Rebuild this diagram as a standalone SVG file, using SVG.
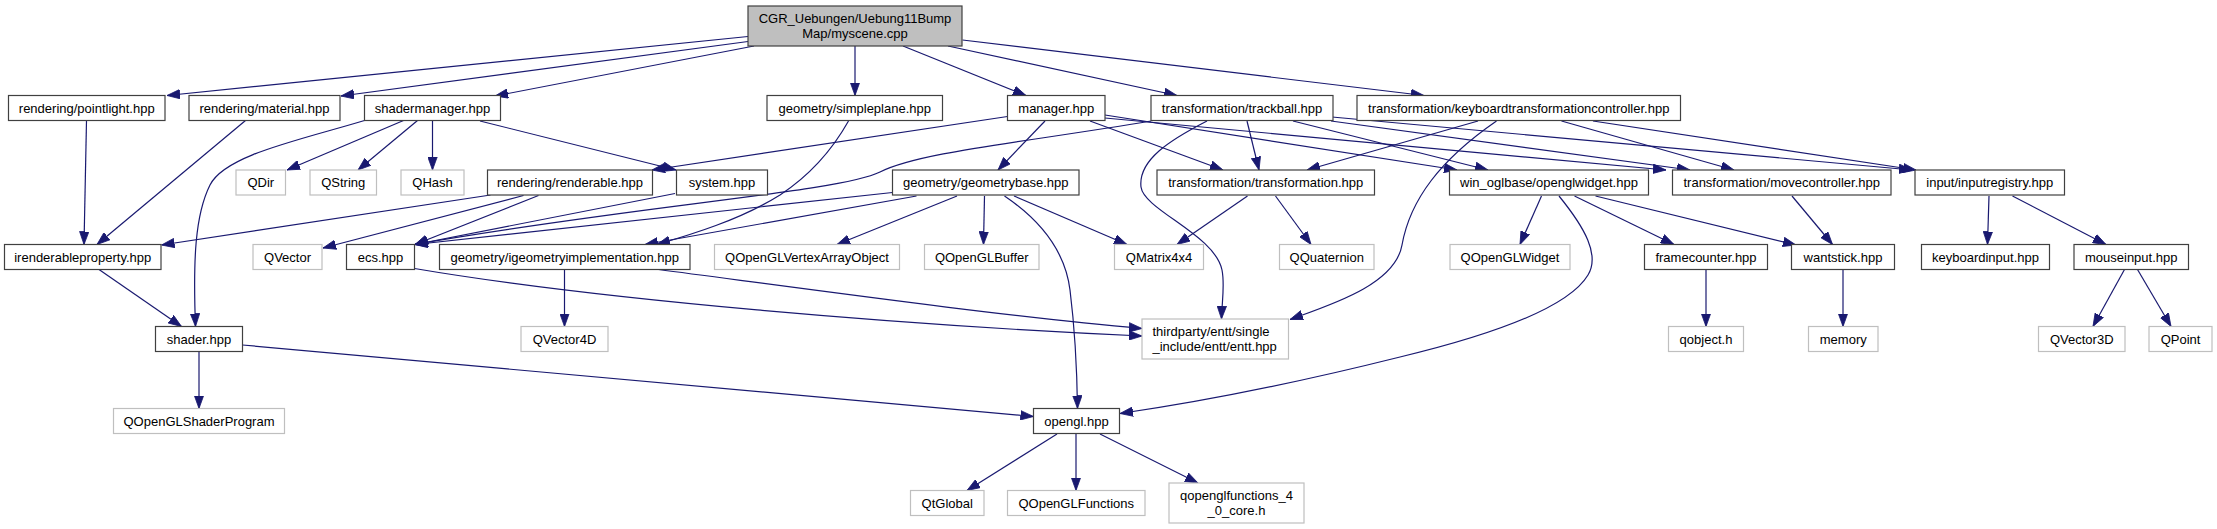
<svg xmlns="http://www.w3.org/2000/svg" width="2217" height="529" viewBox="0 0 2217 529">
<style>
rect{stroke-width:1.2}
.d rect{fill:#ffffff;stroke:#404040}
.g rect{fill:#ffffff;stroke:#bfbfbf}
.m rect{fill:#bfbfbf;stroke:#404040}
text{font-family:"Liberation Sans",Arial,Helvetica,sans-serif;font-size:13px;fill:#000;text-anchor:middle}
.l{text-anchor:start}
#edges path{fill:none;stroke:#191970;stroke-width:1.2}
</style>
<defs>
<marker id="arr" viewBox="0 0 13 10" refX="13" refY="5" markerWidth="13" markerHeight="10" markerUnits="userSpaceOnUse" orient="auto">
<path d="M0,0.3 L13,5 L0,9.7 Z" fill="#191970" stroke="#191970" stroke-width="0.8"/>
</marker>
</defs>
<rect width="2217" height="529" fill="#ffffff"/>
<g id="edges" marker-end="url(#arr)">
<path d="M748,36.5 L167,95.5" marker-end="url(#arr)"/>
<path d="M748,41.5 L341,96" marker-end="url(#arr)"/>
<path d="M754,46 L495,96" marker-end="url(#arr)"/>
<path d="M855,46 L855,95.5" marker-end="url(#arr)"/>
<path d="M903,46 L1026,95.5" marker-end="url(#arr)"/>
<path d="M948,46 L1177,95.5" marker-end="url(#arr)"/>
<path d="M962.5,40 L1424,95.5" marker-end="url(#arr)"/>
<path d="M364.5,120.5 C300,140 225,155 210,185 C195,215 193,260 195.5,326.5" marker-end="url(#arr)"/>
<path d="M403.5,120.5 L287,170" marker-end="url(#arr)"/>
<path d="M417.5,120.5 L358,170" marker-end="url(#arr)"/>
<path d="M432.5,120.5 L432.5,170" marker-end="url(#arr)"/>
<path d="M480,121 L676,170" marker-end="url(#arr)"/>
<path d="M86.5,120.5 L84,244.5" marker-end="url(#arr)"/>
<path d="M245.5,120.5 L97,244.5" marker-end="url(#arr)"/>
<path d="M848.5,121 C835,145 815,172 780,195 C740,220 690,235 657,244.5" marker-end="url(#arr)"/>
<path d="M1007.5,116.5 L652,170" marker-end="url(#arr)"/>
<path d="M1045,121 L998,170" marker-end="url(#arr)"/>
<path d="M1090,121 L1223,170" marker-end="url(#arr)"/>
<path d="M1105,115 L1457,170" marker-end="url(#arr)"/>
<path d="M1105,118 L1666,170" marker-end="url(#arr)"/>
<path d="M1151,121 C1020,143 920,152 880,172 C840,192 640,205 414.5,244.5" marker-end="url(#arr)"/>
<path d="M1247,121 L1259,170" marker-end="url(#arr)"/>
<path d="M1207,121 C1170,140 1138,160 1141,187 C1144,210 1215,235 1222,270 C1225,285 1222,300 1221.5,319" marker-end="url(#arr)"/>
<path d="M1293,121 L1488,170" marker-end="url(#arr)"/>
<path d="M1331,121 L1690,170" marker-end="url(#arr)"/>
<path d="M1332,117 L1912,170" marker-end="url(#arr)"/>
<path d="M1478,121 L1307,170" marker-end="url(#arr)"/>
<path d="M1496.5,121 C1440,160 1410,200 1402,245 C1395,285 1330,305 1290,319.5" marker-end="url(#arr)"/>
<path d="M1561.5,121 L1734,170" marker-end="url(#arr)"/>
<path d="M1593,121 L1916,170" marker-end="url(#arr)"/>
<path d="M490.5,195 L161.5,245" marker-end="url(#arr)"/>
<path d="M523.5,195.5 L323,248" marker-end="url(#arr)"/>
<path d="M538.5,195.5 L415,244.5" marker-end="url(#arr)"/>
<path d="M675,193.5 L415,244.5" marker-end="url(#arr)"/>
<path d="M892.5,192.5 L415,244.5" marker-end="url(#arr)"/>
<path d="M916.5,196 L645,244.5" marker-end="url(#arr)"/>
<path d="M957,196 L837,244.5" marker-end="url(#arr)"/>
<path d="M984.5,196 L983.5,244.5" marker-end="url(#arr)"/>
<path d="M1014,196 L1127,244.5" marker-end="url(#arr)"/>
<path d="M1004.5,196 C1040,220 1065,250 1070,290 C1075,330 1077,370 1077.5,408.5" marker-end="url(#arr)"/>
<path d="M1247.5,196 L1177,244.5" marker-end="url(#arr)"/>
<path d="M1275.5,196 L1311,244.5" marker-end="url(#arr)"/>
<path d="M1541.5,196 L1520,244.5" marker-end="url(#arr)"/>
<path d="M1559,196 C1585,228 1600,255 1588,275 C1570,305 1500,333 1400,357 C1300,382 1200,402 1120,413.5" marker-end="url(#arr)"/>
<path d="M1574.5,196 L1674,244.5" marker-end="url(#arr)"/>
<path d="M1595.5,196 L1796,245" marker-end="url(#arr)"/>
<path d="M1792,196 L1832.5,244.5" marker-end="url(#arr)"/>
<path d="M1989,196 L1987.5,244.5" marker-end="url(#arr)"/>
<path d="M2012.5,196 L2106,244.5" marker-end="url(#arr)"/>
<path d="M1706,269.5 L1706,326.5" marker-end="url(#arr)"/>
<path d="M1843,269.5 L1843,326.5" marker-end="url(#arr)"/>
<path d="M2124.5,269.5 L2093,326.5" marker-end="url(#arr)"/>
<path d="M2137.5,269.5 L2171,326.5" marker-end="url(#arr)"/>
<path d="M99,269.5 L181.5,326.5" marker-end="url(#arr)"/>
<path d="M199,352 L199,408.5" marker-end="url(#arr)"/>
<path d="M242.5,345 L1033.5,416.5" marker-end="url(#arr)"/>
<path d="M414.5,268.5 C600,300 900,325 1142,336" marker-end="url(#arr)"/>
<path d="M658.5,269.5 C800,288 1000,316 1142,328.5" marker-end="url(#arr)"/>
<path d="M564.5,269.5 L564.5,326.5" marker-end="url(#arr)"/>
<path d="M1057,434 L967,490.5" marker-end="url(#arr)"/>
<path d="M1076,434 L1076,490.5" marker-end="url(#arr)"/>
<path d="M1100,434 L1198,483" marker-end="url(#arr)"/>
</g>
<g id="n_main" class="m"><rect x="748" y="6" width="214" height="40"/><text x="855" y="23">CGR_Uebungen/Uebung11Bump</text><text x="855" y="38">Map/myscene.cpp</text></g>
<g id="n_pointlight" class="d"><rect x="8.5" y="95.5" width="156.5" height="25"/><text x="86.75" y="112.5">rendering/pointlight.hpp</text></g>
<g id="n_material" class="d"><rect x="189" y="95.5" width="151" height="25"/><text x="264.5" y="112.5">rendering/material.hpp</text></g>
<g id="n_shadermanager" class="d"><rect x="364.5" y="95.5" width="136" height="25"/><text x="432.5" y="112.5">shadermanager.hpp</text></g>
<g id="n_simpleplane" class="d"><rect x="767" y="95.5" width="175.5" height="25"/><text x="854.75" y="112.5">geometry/simpleplane.hpp</text></g>
<g id="n_manager" class="d"><rect x="1007.5" y="95.5" width="97.5" height="25"/><text x="1056.25" y="112.5">manager.hpp</text></g>
<g id="n_trackball" class="d"><rect x="1151" y="95.5" width="182" height="25"/><text x="1242" y="112.5">transformation/trackball.hpp</text></g>
<g id="n_keyboardctrl" class="d"><rect x="1357" y="95.5" width="323.5" height="25"/><text x="1518.75" y="112.5">transformation/keyboardtransformationcontroller.hpp</text></g>
<g id="n_qdir" class="g"><rect x="236" y="170" width="49.5" height="25"/><text x="260.75" y="187">QDir</text></g>
<g id="n_qstring" class="g"><rect x="310" y="170" width="66.5" height="25"/><text x="343.25" y="187">QString</text></g>
<g id="n_qhash" class="g"><rect x="401" y="170" width="63" height="25"/><text x="432.5" y="187">QHash</text></g>
<g id="n_renderable" class="d"><rect x="487.5" y="170" width="165" height="25"/><text x="570" y="187">rendering/renderable.hpp</text></g>
<g id="n_system" class="d"><rect x="676.5" y="170" width="91" height="25"/><text x="722" y="187">system.hpp</text></g>
<g id="n_geometrybase" class="d"><rect x="892.5" y="170" width="186.5" height="25"/><text x="985.75" y="187">geometry/geometrybase.hpp</text></g>
<g id="n_transformation" class="d"><rect x="1157" y="170" width="217.5" height="25"/><text x="1265.75" y="187">transformation/transformation.hpp</text></g>
<g id="n_openglwidget" class="d"><rect x="1449.5" y="170" width="199" height="25"/><text x="1549" y="187">win_oglbase/openglwidget.hpp</text></g>
<g id="n_movecontroller" class="d"><rect x="1672.5" y="170" width="218.5" height="25"/><text x="1781.75" y="187">transformation/movecontroller.hpp</text></g>
<g id="n_inputregistry" class="d"><rect x="1915" y="170" width="149.5" height="25"/><text x="1989.75" y="187">input/inputregistry.hpp</text></g>
<g id="n_irenderableproperty" class="d"><rect x="4.5" y="244.5" width="156.5" height="25"/><text x="82.75" y="261.5">irenderableproperty.hpp</text></g>
<g id="n_qvector" class="g"><rect x="253" y="244.5" width="69" height="25"/><text x="287.5" y="261.5">QVector</text></g>
<g id="n_ecs" class="d"><rect x="346.5" y="244.5" width="68" height="25"/><text x="380.5" y="261.5">ecs.hpp</text></g>
<g id="n_igeometry" class="d"><rect x="439.5" y="244.5" width="250.5" height="25"/><text x="564.75" y="261.5">geometry/igeometryimplementation.hpp</text></g>
<g id="n_qvao" class="g"><rect x="714.5" y="244.5" width="185" height="25"/><text x="807" y="261.5">QOpenGLVertexArrayObject</text></g>
<g id="n_qbuffer" class="g"><rect x="924.5" y="244.5" width="114.5" height="25"/><text x="981.75" y="261.5">QOpenGLBuffer</text></g>
<g id="n_qmatrix" class="g"><rect x="1114.5" y="244.5" width="89" height="25"/><text x="1159" y="261.5">QMatrix4x4</text></g>
<g id="n_qquaternion" class="g"><rect x="1279.5" y="244.5" width="94.5" height="25"/><text x="1326.75" y="261.5">QQuaternion</text></g>
<g id="n_qopenglwidget" class="g"><rect x="1450" y="244.5" width="120" height="25"/><text x="1510" y="261.5">QOpenGLWidget</text></g>
<g id="n_framecounter" class="d"><rect x="1644.5" y="244.5" width="123" height="25"/><text x="1706" y="261.5">framecounter.hpp</text></g>
<g id="n_wantstick" class="d"><rect x="1791.5" y="244.5" width="103" height="25"/><text x="1843" y="261.5">wantstick.hpp</text></g>
<g id="n_keyboardinput" class="d"><rect x="1921.5" y="244.5" width="128" height="25"/><text x="1985.5" y="261.5">keyboardinput.hpp</text></g>
<g id="n_mouseinput" class="d"><rect x="2074" y="244.5" width="114.5" height="25"/><text x="2131.25" y="261.5">mouseinput.hpp</text></g>
<g id="n_shader" class="d"><rect x="155.5" y="326.5" width="87" height="25"/><text x="199" y="343.5">shader.hpp</text></g>
<g id="n_qvector4d" class="g"><rect x="521" y="326.5" width="87" height="25"/><text x="564.5" y="343.5">QVector4D</text></g>
<g id="n_entt" class="g"><rect x="1142" y="319" width="146.5" height="40"/><text class="l" x="1152.5" y="335.5">thirdparty/entt/single</text><text class="l" x="1152.5" y="350.5">_include/entt/entt.hpp</text></g>
<g id="n_qobject" class="g"><rect x="1668.5" y="326.5" width="75" height="25"/><text x="1706" y="343.5">qobject.h</text></g>
<g id="n_memory" class="g"><rect x="1808.5" y="326.5" width="69.5" height="25"/><text x="1843.25" y="343.5">memory</text></g>
<g id="n_qvector3d" class="g"><rect x="2038.5" y="326.5" width="86.5" height="25"/><text x="2081.75" y="343.5">QVector3D</text></g>
<g id="n_qpoint" class="g"><rect x="2149" y="326.5" width="63" height="25"/><text x="2180.5" y="343.5">QPoint</text></g>
<g id="n_qshaderprogram" class="g"><rect x="113.5" y="408.5" width="171" height="25"/><text x="199" y="425.5">QOpenGLShaderProgram</text></g>
<g id="n_opengl" class="d"><rect x="1033.5" y="408.5" width="86" height="25"/><text x="1076.5" y="425.5">opengl.hpp</text></g>
<g id="n_qtglobal" class="g"><rect x="910.5" y="490.5" width="73.5" height="25"/><text x="947.25" y="507.5">QtGlobal</text></g>
<g id="n_qfunctions" class="g"><rect x="1007.5" y="490.5" width="137.5" height="25"/><text x="1076.25" y="507.5">QOpenGLFunctions</text></g>
<g id="n_qfunctions40" class="g"><rect x="1169" y="483" width="135" height="40"/><text x="1236.5" y="500">qopenglfunctions_4</text><text x="1236.5" y="515">_0_core.h</text></g>
</svg>
